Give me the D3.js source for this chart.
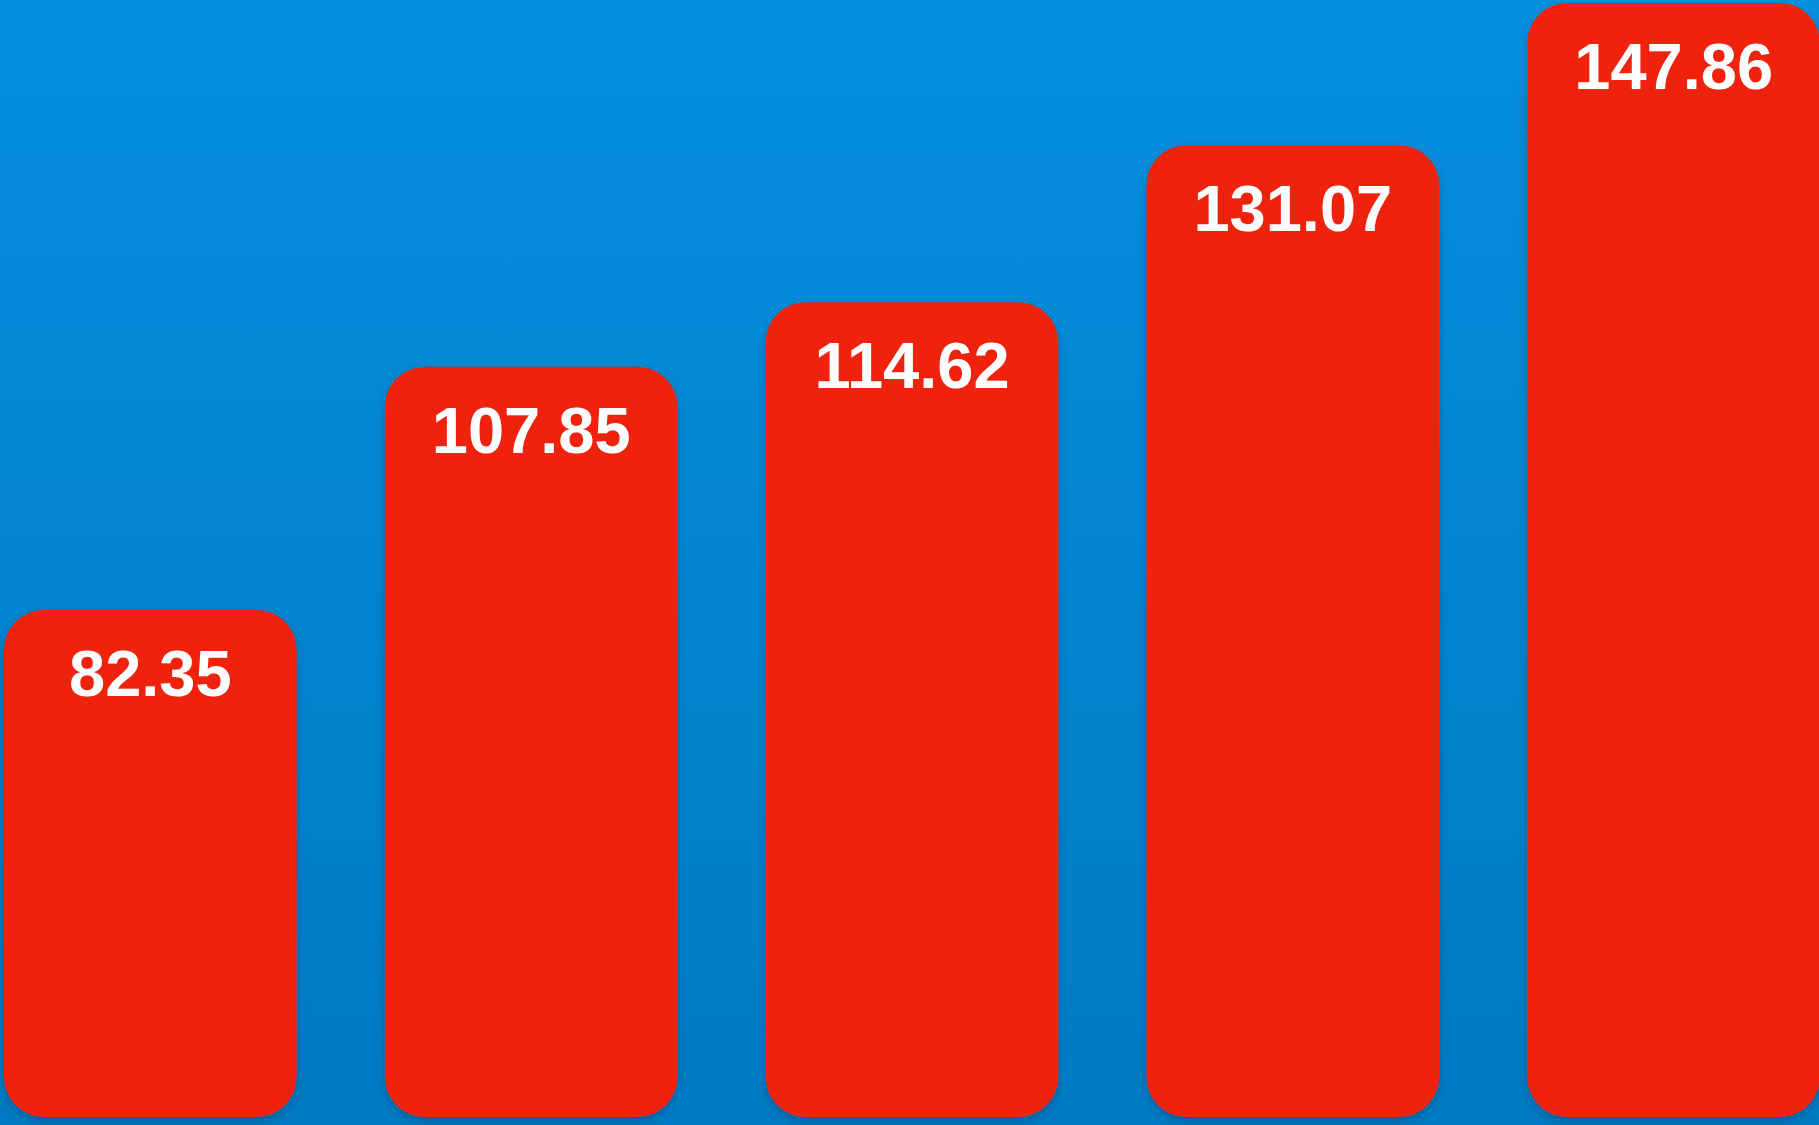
<!DOCTYPE html>
<html>
<head>
<meta charset="utf-8">
<script src="https://cdn.jsdelivr.net/npm/d3@7"></script>
<style>
  html, body { margin: 0; padding: 0; overflow: hidden; }
  svg { display: block; }
</style>
</head>
<body>
<div class="chart-container"></div>
<script>
var categories = ["A", "B", "C", "D", "E"];
var values = [82.35, 107.85, 114.62, 131.07, 147.86];
var labels = ["82.35", "107.85", "114.62", "131.07", "147.86"];

var width = 1819, height = 1125;
var baseline = 1117;

var svg = d3.select(".chart-container").append("svg")
  .attr("width", width)
  .attr("height", height);

var defs = svg.append("defs");
var grad = defs.append("linearGradient")
  .attr("id", "bg-grad")
  .attr("x1", 0).attr("y1", 0).attr("x2", 0).attr("y2", 1);
grad.append("stop").attr("offset", "0%").attr("stop-color", "#0590e0");
grad.append("stop").attr("offset", "100%").attr("stop-color", "#007bc3");

var shadow = defs.append("filter")
  .attr("id", "bar-shadow")
  .attr("x", "-10%").attr("y", "-10%").attr("width", "120%").attr("height", "120%");
shadow.append("feDropShadow")
  .attr("dx", 0).attr("dy", 4)
  .attr("stdDeviation", 4)
  .attr("flood-color", "#003a66")
  .attr("flood-opacity", 0.45);

svg.append("rect")
  .attr("width", width)
  .attr("height", height)
  .attr("fill", "url(#bg-grad)");

var x = d3.scaleBand()
  .domain(categories)
  .range([4, 1820])
  .paddingInner(0.2315);

// bars aren't proportional to the labels, so fit the scale to what is drawn
var y = d3.scaleLinear()
  .domain([29.2, 146.3])
  .range([baseline, 0]);

var bars = svg.append("g").attr("class", "bars");

bars.selectAll("rect")
  .data(values)
  .enter().append("rect")
  .attr("x", function (d, i) { return x(categories[i]); })
  .attr("y", function (d) { return Math.max(3, y(d)); })
  .attr("width", x.bandwidth())
  .attr("height", function (d) { return baseline - Math.max(3, y(d)); })
  .attr("rx", 40)
  .attr("ry", 40)
  .attr("fill", "#ee240c")
  .attr("filter", "url(#bar-shadow)");

bars.selectAll("text")
  .data(values)
  .enter().append("text")
  .attr("x", function (d, i) { return x(categories[i]) + x.bandwidth() / 2; })
  .attr("y", function (d) { return Math.max(3, y(d)) + 86; })
  .attr("text-anchor", "middle")
  .attr("fill", "#ffffff")
  .style("font-family", "'Liberation Sans', Arial, Helvetica, sans-serif")
  .style("font-weight", "bold")
  .style("font-size", "65px")
  .text(function (d, i) { return labels[i]; });
</script>
</body>
</html>
